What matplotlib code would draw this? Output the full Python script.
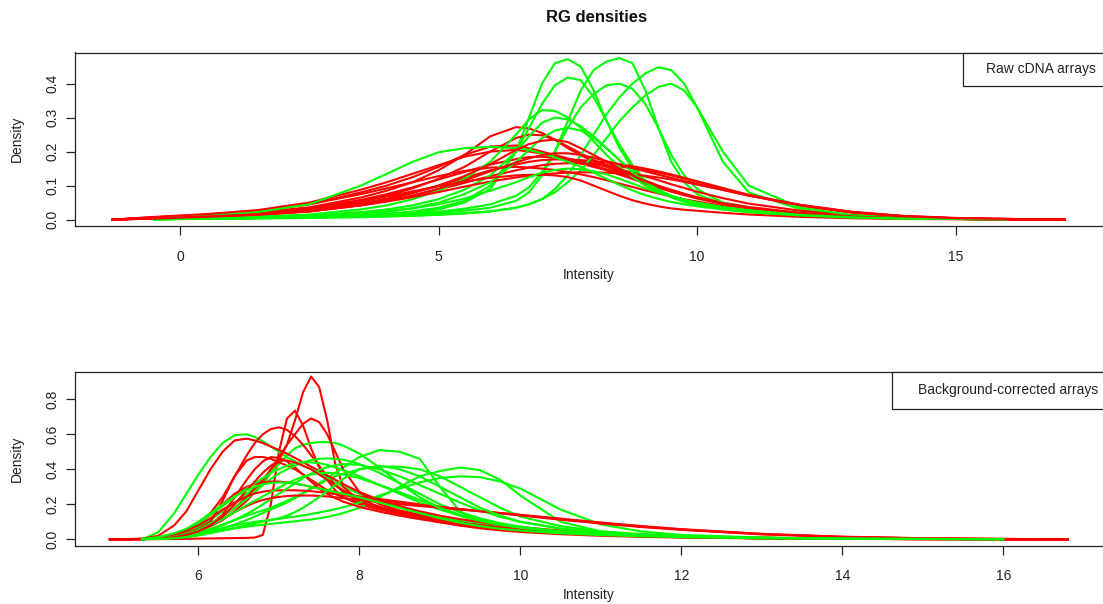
import numpy as np
import matplotlib
matplotlib.use("Agg")
import matplotlib.pyplot as plt
from matplotlib.patches import Rectangle

plt.rcParams['font.family'] = ['Liberation Sans', 'DejaVu Sans']

nan = np.nan
title = "RG densities"
xlabel = "Intensity"
ylabel = "Density"
top_legend = "Raw cDNA arrays"
bot_legend = "Background-corrected arrays"

# ---------------- top panel (raw) ----------------
top_x = [-1.3, -0.5, 0.5, 1.5, 2.5, 3.5, 4.0, 4.5, 5.0, 5.5, 6.0, 6.5, 6.75, 7.0, 7.25, 7.5,
         7.75, 8.0, 8.25, 8.5, 8.75, 9.0, 9.25, 9.5, 9.75, 10.0, 10.5, 11.0, 12.0, 13.0,
         14.0, 15.0, 16.0, 17.1]
top_red = [
    [0, 0.006, 0.014, 0.022, 0.036, 0.065, 0.085, 0.11, 0.145, 0.19, 0.245, 0.272, 0.268, 0.255, 0.235, 0.21, 0.19, 0.17, 0.155, 0.14, 0.125, 0.11, 0.098, 0.085, 0.074, 0.064, 0.048, 0.035, 0.018, 0.009, 0.004, 0.002, 0.001, 0],
    [0, 0.004, 0.01, 0.018, 0.03, 0.052, 0.07, 0.092, 0.12, 0.155, 0.2, 0.24, 0.25, 0.248, 0.235, 0.215, 0.195, 0.175, 0.16, 0.145, 0.13, 0.115, 0.1, 0.088, 0.076, 0.065, 0.048, 0.034, 0.017, 0.008, 0.004, 0.002, 0.001, 0],
    [0, 0.006, 0.014, 0.025, 0.045, 0.08, 0.1, 0.125, 0.155, 0.19, 0.215, 0.218, 0.21, 0.2, 0.19, 0.18, 0.17, 0.16, 0.148, 0.135, 0.12, 0.106, 0.094, 0.082, 0.072, 0.062, 0.046, 0.033, 0.017, 0.008, 0.004, 0.002, 0.001, 0],
    [0, 0.008, 0.016, 0.028, 0.05, 0.088, 0.11, 0.135, 0.16, 0.185, 0.2, 0.205, 0.2, 0.195, 0.185, 0.175, 0.165, 0.155, 0.145, 0.132, 0.12, 0.108, 0.096, 0.085, 0.075, 0.066, 0.05, 0.037, 0.02, 0.01, 0.005, 0.002, 0.001, 0],
    [0, 0.005, 0.012, 0.02, 0.034, 0.058, 0.075, 0.095, 0.118, 0.14, 0.162, 0.178, 0.184, 0.185, 0.182, 0.178, 0.172, 0.165, 0.157, 0.148, 0.138, 0.127, 0.116, 0.104, 0.093, 0.082, 0.063, 0.047, 0.026, 0.013, 0.006, 0.003, 0.001, 0],
    [0, 0.004, 0.01, 0.017, 0.028, 0.048, 0.062, 0.08, 0.1, 0.122, 0.145, 0.162, 0.17, 0.175, 0.177, 0.177, 0.175, 0.172, 0.168, 0.163, 0.157, 0.15, 0.142, 0.133, 0.123, 0.113, 0.093, 0.072, 0.04, 0.02, 0.009, 0.004, 0.001, 0],
    [0, 0.003, 0.008, 0.014, 0.024, 0.042, 0.055, 0.07, 0.088, 0.108, 0.128, 0.145, 0.153, 0.16, 0.164, 0.166, 0.165, 0.163, 0.16, 0.156, 0.151, 0.145, 0.138, 0.13, 0.121, 0.111, 0.092, 0.073, 0.043, 0.022, 0.01, 0.004, 0.002, 0],
    [0, 0.007, 0.015, 0.026, 0.045, 0.075, 0.092, 0.11, 0.128, 0.143, 0.153, 0.155, 0.153, 0.15, 0.146, 0.14, 0.133, 0.125, 0.116, 0.106, 0.096, 0.086, 0.077, 0.068, 0.06, 0.053, 0.04, 0.03, 0.016, 0.008, 0.004, 0.002, 0.001, 0],
    [0, 0.004, 0.009, 0.015, 0.025, 0.042, 0.053, 0.066, 0.081, 0.097, 0.112, 0.124, 0.129, 0.133, 0.136, 0.138, 0.139, 0.139, 0.138, 0.136, 0.133, 0.129, 0.124, 0.118, 0.111, 0.103, 0.087, 0.07, 0.043, 0.023, 0.011, 0.005, 0.002, 0],
    [0, 0.005, 0.012, 0.02, 0.033, 0.055, 0.068, 0.083, 0.098, 0.112, 0.123, 0.13, 0.132, 0.132, 0.13, 0.125, 0.115, 0.1, 0.085, 0.07, 0.057, 0.047, 0.039, 0.033, 0.029, 0.026, 0.02, 0.015, 0.008, 0.004, 0.002, 0.001, 0, 0],
    [0, 0.004, 0.009, 0.016, 0.027, 0.046, 0.06, 0.078, 0.1, 0.128, 0.163, 0.205, 0.222, 0.232, 0.235, 0.228, 0.21, 0.19, 0.17, 0.15, 0.13, 0.113, 0.098, 0.085, 0.074, 0.064, 0.048, 0.035, 0.018, 0.009, 0.004, 0.002, 0.001, 0],
    [0, 0.003, 0.008, 0.014, 0.024, 0.042, 0.055, 0.071, 0.091, 0.115, 0.142, 0.168, 0.18, 0.19, 0.195, 0.195, 0.19, 0.182, 0.172, 0.162, 0.152, 0.142, 0.132, 0.123, 0.114, 0.105, 0.088, 0.071, 0.043, 0.022, 0.01, 0.004, 0.002, 0],
]
top_green = [
    [nan, 0.001, 0.004, 0.006, 0.008, 0.012, 0.015, 0.02, 0.03, 0.05, 0.09, 0.2, 0.3, 0.4, 0.46, 0.472, 0.45, 0.38, 0.29, 0.21, 0.15, 0.11, 0.085, 0.068, 0.056, 0.047, 0.034, 0.025, 0.013, 0.006, 0.003, 0.002, 0.001, nan],
    [nan, 0.001, 0.003, 0.005, 0.007, 0.01, 0.012, 0.015, 0.02, 0.026, 0.035, 0.055, 0.08, 0.13, 0.2, 0.29, 0.38, 0.44, 0.465, 0.475, 0.46, 0.38, 0.27, 0.17, 0.11, 0.075, 0.045, 0.03, 0.015, 0.007, 0.003, 0.002, 0.001, nan],
    [nan, 0.001, 0.002, 0.004, 0.006, 0.008, 0.01, 0.012, 0.015, 0.019, 0.024, 0.035, 0.045, 0.06, 0.09, 0.13, 0.19, 0.25, 0.31, 0.36, 0.4, 0.43, 0.448, 0.44, 0.4, 0.33, 0.17, 0.08, 0.03, 0.012, 0.005, 0.002, 0.001, nan],
    [nan, 0.001, 0.003, 0.005, 0.007, 0.01, 0.013, 0.017, 0.023, 0.032, 0.045, 0.07, 0.095, 0.14, 0.2, 0.27, 0.33, 0.37, 0.395, 0.4, 0.385, 0.34, 0.27, 0.19, 0.13, 0.09, 0.05, 0.032, 0.015, 0.007, 0.003, 0.002, 0.001, nan],
    [nan, 0.001, 0.003, 0.005, 0.008, 0.013, 0.017, 0.024, 0.035, 0.055, 0.1, 0.2, 0.27, 0.34, 0.395, 0.418, 0.41, 0.36, 0.29, 0.22, 0.16, 0.115, 0.085, 0.065, 0.052, 0.043, 0.03, 0.022, 0.012, 0.006, 0.003, 0.002, 0.001, nan],
    [nan, 0.001, 0.002, 0.003, 0.005, 0.007, 0.009, 0.011, 0.014, 0.018, 0.024, 0.035, 0.045, 0.06, 0.08, 0.11, 0.145, 0.19, 0.24, 0.29, 0.33, 0.365, 0.39, 0.4, 0.38, 0.33, 0.2, 0.1, 0.035, 0.013, 0.005, 0.002, 0.001, nan],
    [nan, 0.002, 0.005, 0.009, 0.015, 0.03, 0.042, 0.06, 0.085, 0.12, 0.17, 0.25, 0.295, 0.322, 0.32, 0.3, 0.27, 0.23, 0.19, 0.155, 0.125, 0.1, 0.082, 0.068, 0.058, 0.05, 0.038, 0.028, 0.015, 0.007, 0.003, 0.002, 0.001, nan],
    [nan, 0.002, 0.004, 0.007, 0.012, 0.022, 0.03, 0.042, 0.06, 0.088, 0.13, 0.2, 0.245, 0.285, 0.3, 0.295, 0.275, 0.245, 0.21, 0.175, 0.14, 0.11, 0.088, 0.07, 0.058, 0.049, 0.036, 0.027, 0.014, 0.007, 0.003, 0.002, 0.001, nan],
    [nan, 0.001, 0.003, 0.006, 0.01, 0.018, 0.024, 0.034, 0.05, 0.075, 0.11, 0.17, 0.205, 0.24, 0.262, 0.27, 0.262, 0.24, 0.21, 0.175, 0.14, 0.11, 0.087, 0.07, 0.058, 0.049, 0.036, 0.027, 0.014, 0.007, 0.003, 0.002, 0.001, nan],
    [nan, 0.003, 0.01, 0.022, 0.045, 0.1, 0.135, 0.17, 0.198, 0.21, 0.214, 0.21, 0.205, 0.195, 0.183, 0.17, 0.155, 0.138, 0.12, 0.102, 0.086, 0.072, 0.061, 0.052, 0.045, 0.039, 0.03, 0.022, 0.012, 0.006, 0.003, 0.002, 0.001, nan],
    [nan, 0.001, 0.003, 0.005, 0.009, 0.017, 0.024, 0.033, 0.045, 0.062, 0.085, 0.11, 0.125, 0.138, 0.146, 0.15, 0.148, 0.142, 0.133, 0.12, 0.106, 0.092, 0.079, 0.068, 0.058, 0.05, 0.037, 0.027, 0.014, 0.007, 0.003, 0.002, 0.001, nan],
]

# ---------------- bottom panel (background-corrected) ----------------
bot_x = [4.9, 5.3, 5.5, 5.7, 5.85, 6.0, 6.15, 6.3, 6.45, 6.6, 6.7, 6.8, 6.9, 7.0, 7.1, 7.2,
         7.3, 7.4, 7.5, 7.6, 7.7, 7.8, 8.0, 8.25, 8.5, 8.75, 9.0, 9.25, 9.5, 9.75, 10.0,
         10.5, 11.0, 11.5, 12.0, 13.0, 14.0, 15.0, 16.0, 16.8]
bot_red = [
    [0, 0, 0.001, 0.002, 0.003, 0.004, 0.005, 0.006, 0.007, 0.008, 0.01, 0.025, 0.2, 0.5, 0.69, 0.735, 0.65, 0.52, 0.41, 0.34, 0.28, 0.24, 0.2, 0.17, 0.145, 0.125, 0.105, 0.088, 0.074, 0.062, 0.052, 0.036, 0.025, 0.018, 0.012, 0.006, 0.003, 0.001, 0.0005, 0],
    [0, 0.001, 0.004, 0.012, 0.025, 0.045, 0.075, 0.11, 0.16, 0.22, 0.27, 0.32, 0.38, 0.45, 0.54, 0.68, 0.84, 0.93, 0.87, 0.68, 0.43, 0.3, 0.22, 0.18, 0.15, 0.127, 0.107, 0.09, 0.075, 0.063, 0.053, 0.038, 0.027, 0.019, 0.013, 0.006, 0.003, 0.001, 0.0005, 0],
    [0, 0.002, 0.008, 0.025, 0.05, 0.09, 0.15, 0.24, 0.36, 0.48, 0.55, 0.6, 0.63, 0.64, 0.625, 0.59, 0.54, 0.48, 0.42, 0.36, 0.31, 0.27, 0.22, 0.185, 0.158, 0.134, 0.112, 0.093, 0.078, 0.065, 0.055, 0.038, 0.027, 0.019, 0.013, 0.006, 0.003, 0.001, 0.0005, 0],
    [0, 0.001, 0.005, 0.015, 0.03, 0.055, 0.09, 0.13, 0.18, 0.24, 0.29, 0.34, 0.4, 0.47, 0.54, 0.6, 0.66, 0.69, 0.67, 0.6, 0.5, 0.4, 0.27, 0.2, 0.165, 0.14, 0.115, 0.095, 0.08, 0.067, 0.056, 0.04, 0.028, 0.02, 0.014, 0.006, 0.003, 0.001, 0.0005, 0],
    [0, 0.003, 0.02, 0.08, 0.16, 0.28, 0.4, 0.5, 0.565, 0.575, 0.565, 0.55, 0.53, 0.51, 0.49, 0.465, 0.44, 0.415, 0.39, 0.365, 0.34, 0.315, 0.27, 0.225, 0.19, 0.16, 0.135, 0.115, 0.098, 0.083, 0.07, 0.05, 0.036, 0.026, 0.018, 0.009, 0.004, 0.002, 0.001, 0],
    [0, 0.002, 0.006, 0.018, 0.035, 0.06, 0.1, 0.22, 0.36, 0.45, 0.47, 0.47, 0.46, 0.44, 0.42, 0.4, 0.37, 0.34, 0.31, 0.28, 0.26, 0.24, 0.21, 0.18, 0.155, 0.132, 0.112, 0.095, 0.08, 0.068, 0.058, 0.042, 0.031, 0.022, 0.016, 0.008, 0.004, 0.002, 0.001, 0],
    [0, 0.001, 0.005, 0.014, 0.028, 0.05, 0.085, 0.14, 0.24, 0.34, 0.4, 0.445, 0.47, 0.465, 0.445, 0.41, 0.37, 0.33, 0.29, 0.26, 0.235, 0.215, 0.185, 0.158, 0.135, 0.115, 0.098, 0.084, 0.072, 0.062, 0.053, 0.038, 0.028, 0.02, 0.014, 0.007, 0.003, 0.002, 0.001, 0],
    [0, 0.002, 0.01, 0.03, 0.055, 0.09, 0.14, 0.2, 0.26, 0.3, 0.315, 0.325, 0.33, 0.33, 0.325, 0.318, 0.31, 0.3, 0.29, 0.28, 0.27, 0.26, 0.245, 0.23, 0.215, 0.2, 0.185, 0.172, 0.16, 0.148, 0.136, 0.112, 0.09, 0.07, 0.054, 0.028, 0.013, 0.005, 0.002, 0],
    [0, 0.002, 0.01, 0.028, 0.05, 0.08, 0.12, 0.17, 0.21, 0.245, 0.262, 0.272, 0.278, 0.28, 0.28, 0.28, 0.278, 0.275, 0.27, 0.265, 0.258, 0.252, 0.24, 0.225, 0.21, 0.197, 0.185, 0.173, 0.162, 0.15, 0.139, 0.115, 0.093, 0.073, 0.056, 0.03, 0.014, 0.006, 0.002, 0],
    [0, 0.001, 0.005, 0.015, 0.03, 0.05, 0.08, 0.115, 0.155, 0.19, 0.21, 0.225, 0.235, 0.242, 0.247, 0.25, 0.25, 0.25, 0.248, 0.245, 0.24, 0.235, 0.225, 0.212, 0.2, 0.19, 0.18, 0.17, 0.16, 0.15, 0.14, 0.118, 0.096, 0.076, 0.058, 0.031, 0.015, 0.006, 0.002, 0],
    [0, 0.001, 0.004, 0.012, 0.025, 0.045, 0.08, 0.13, 0.2, 0.28, 0.33, 0.38, 0.42, 0.45, 0.45, 0.44, 0.42, 0.4, 0.37, 0.34, 0.31, 0.28, 0.23, 0.185, 0.15, 0.12, 0.097, 0.078, 0.063, 0.051, 0.042, 0.029, 0.02, 0.014, 0.01, 0.005, 0.002, 0.001, 0.0005, 0],
]
bot_green = [
    [nan, 0.0, 0.04, 0.15, 0.26, 0.37, 0.47, 0.55, 0.595, 0.6, 0.585, 0.56, 0.53, 0.5, 0.47, 0.445, 0.42, 0.4, 0.375, 0.35, 0.325, 0.3, 0.26, 0.22, 0.18, 0.15, 0.125, 0.104, 0.087, 0.073, 0.062, 0.044, 0.031, 0.022, 0.016, 0.008, 0.004, 0.002, 0.001, nan],
    [nan, 0.001, 0.005, 0.02, 0.04, 0.07, 0.11, 0.16, 0.21, 0.26, 0.29, 0.33, 0.38, 0.43, 0.48, 0.52, 0.54, 0.55, 0.555, 0.555, 0.55, 0.535, 0.49, 0.41, 0.32, 0.24, 0.18, 0.135, 0.1, 0.077, 0.06, 0.04, 0.028, 0.02, 0.014, 0.007, 0.003, 0.002, 0.001, nan],
    [nan, 0.001, 0.003, 0.008, 0.015, 0.025, 0.04, 0.06, 0.085, 0.11, 0.13, 0.15, 0.17, 0.19, 0.21, 0.235, 0.26, 0.29, 0.32, 0.35, 0.38, 0.41, 0.47, 0.51, 0.5, 0.46, 0.3, 0.16, 0.1, 0.07, 0.055, 0.035, 0.024, 0.017, 0.012, 0.006, 0.003, 0.002, 0.001, nan],
    [nan, 0.001, 0.004, 0.012, 0.025, 0.04, 0.06, 0.085, 0.11, 0.135, 0.15, 0.165, 0.18, 0.2, 0.22, 0.24, 0.265, 0.29, 0.315, 0.34, 0.36, 0.375, 0.4, 0.415, 0.415, 0.4, 0.36, 0.3, 0.24, 0.18, 0.13, 0.075, 0.045, 0.03, 0.02, 0.009, 0.004, 0.002, 0.001, nan],
    [nan, 0.001, 0.003, 0.008, 0.015, 0.025, 0.038, 0.05, 0.062, 0.072, 0.078, 0.083, 0.088, 0.093, 0.098, 0.103, 0.108, 0.113, 0.12, 0.128, 0.138, 0.15, 0.18, 0.24, 0.3, 0.36, 0.39, 0.41, 0.395, 0.34, 0.25, 0.1, 0.045, 0.025, 0.015, 0.006, 0.003, 0.002, 0.001, nan],
    [nan, 0.001, 0.004, 0.01, 0.02, 0.035, 0.05, 0.065, 0.08, 0.092, 0.1, 0.106, 0.112, 0.118, 0.124, 0.13, 0.137, 0.145, 0.153, 0.162, 0.172, 0.183, 0.21, 0.25, 0.29, 0.325, 0.35, 0.36, 0.355, 0.33, 0.29, 0.17, 0.085, 0.045, 0.025, 0.01, 0.004, 0.002, 0.001, nan],
    [nan, 0.001, 0.005, 0.015, 0.03, 0.055, 0.09, 0.13, 0.18, 0.23, 0.27, 0.31, 0.345, 0.375, 0.4, 0.42, 0.44, 0.452, 0.46, 0.462, 0.46, 0.455, 0.43, 0.38, 0.32, 0.26, 0.2, 0.155, 0.12, 0.092, 0.072, 0.046, 0.031, 0.022, 0.015, 0.007, 0.003, 0.002, 0.001, nan],
    [nan, 0.002, 0.01, 0.03, 0.055, 0.09, 0.14, 0.19, 0.24, 0.29, 0.32, 0.35, 0.38, 0.4, 0.42, 0.435, 0.44, 0.44, 0.435, 0.425, 0.41, 0.395, 0.36, 0.31, 0.26, 0.21, 0.17, 0.135, 0.105, 0.083, 0.066, 0.043, 0.029, 0.02, 0.014, 0.007, 0.003, 0.002, 0.001, nan],
    [nan, 0.001, 0.004, 0.01, 0.02, 0.035, 0.055, 0.08, 0.11, 0.145, 0.17, 0.2, 0.23, 0.26, 0.29, 0.32, 0.35, 0.375, 0.395, 0.412, 0.423, 0.43, 0.425, 0.4, 0.36, 0.31, 0.26, 0.21, 0.165, 0.128, 0.1, 0.062, 0.04, 0.027, 0.018, 0.008, 0.004, 0.002, 0.001, nan],
    [nan, 0.001, 0.005, 0.015, 0.03, 0.05, 0.08, 0.115, 0.155, 0.195, 0.22, 0.245, 0.27, 0.295, 0.32, 0.34, 0.358, 0.37, 0.378, 0.38, 0.378, 0.37, 0.35, 0.31, 0.27, 0.225, 0.18, 0.14, 0.11, 0.087, 0.068, 0.044, 0.029, 0.02, 0.014, 0.006, 0.003, 0.002, 0.001, nan],
    [nan, 0.0, 0.002, 0.006, 0.012, 0.022, 0.035, 0.05, 0.065, 0.08, 0.09, 0.1, 0.11, 0.12, 0.135, 0.155, 0.18, 0.21, 0.24, 0.275, 0.31, 0.345, 0.4, 0.42, 0.4, 0.36, 0.3, 0.24, 0.18, 0.135, 0.1, 0.06, 0.038, 0.025, 0.017, 0.008, 0.004, 0.002, 0.001, nan],
    [nan, 0.002, 0.012, 0.035, 0.06, 0.1, 0.15, 0.2, 0.245, 0.28, 0.3, 0.315, 0.322, 0.325, 0.322, 0.318, 0.31, 0.3, 0.29, 0.28, 0.27, 0.26, 0.24, 0.21, 0.18, 0.15, 0.12, 0.095, 0.075, 0.06, 0.05, 0.034, 0.024, 0.017, 0.012, 0.006, 0.003, 0.002, 0.001, nan],
]

top_xticks = [0, 5, 10, 15]
top_yticks = [0.0, 0.1, 0.2, 0.3, 0.4]
bot_xticks = [6, 8, 10, 12, 14, 16]
bot_yticks = [0.0, 0.2, 0.4, 0.6, 0.8]

RED = "#FF0000"
GREEN = "#00FF00"

W, H = 1103, 604
fig = plt.figure(figsize=(W / 100, H / 100), dpi=100)


def px_box(left, top, right, bottom):
    return [left / W, 1 - bottom / H, (right - left) / W, (bottom - top) / H]


def setup(ax, xlim, ylim, xticks, yticks, leg_text, leg_box):
    ax.set_xlim(*xlim)
    ax.set_ylim(*ylim)
    ax.set_xticks(xticks)
    ax.set_xticklabels([str(t) for t in xticks])
    ax.set_yticks(yticks)
    ax.set_yticklabels([f"{t:.1f}" for t in yticks], rotation=90, va="center")
    ax.tick_params(axis="x", direction="out", length=6.5, width=0.9, pad=10.5,
                   labelsize=10, colors="#222222")
    ax.tick_params(axis="y", direction="out", length=6.5, width=0.9, pad=4,
                   labelsize=10, colors="#222222")
    for s in ("left", "top", "bottom"):
        ax.spines[s].set_linewidth(0.9)
        ax.spines[s].set_color("#222222")
    ax.spines["right"].set_visible(False)
    ax.set_xlabel(xlabel, fontsize=10, color="#222222")
    ax.set_ylabel(ylabel, fontsize=10, color="#222222")
    ax.xaxis.label.set_va("center")
    ax.yaxis.label.set_va("center")
    # legend-like box (as drawn by R's legend())
    l, t, b, tx = leg_box
    rect = Rectangle((l / W, 1 - b / H), 0.2, (b - t) / H, transform=fig.transFigure,
                     facecolor="white", edgecolor="#222222", lw=0.9, zorder=5,
                     clip_on=False)
    fig.add_artist(rect)
    fig.text(tx / W, 1 - (t + b) / 2 / H, leg_text, fontsize=10, color="#222222",
             ha="left", va="center", zorder=6)


ax1 = fig.add_axes(px_box(74.5, 52.5, 1103, 226))
for i in range(max(len(top_red), len(top_green))):
    if i < len(top_red):
        ax1.plot(top_x, top_red[i], color=RED, lw=1.5)
    if i < len(top_green):
        ax1.plot(top_x, top_green[i], color=GREEN, lw=1.5)
setup(ax1, (-2.04, 17.85), (-0.0188, 0.4915), top_xticks, top_yticks,
      top_legend, (963, 52.5, 86, 986))
ax1.xaxis.set_label_coords(0.5, -(275 - 226) / 173.5)
ax1.yaxis.set_label_coords(-(74.5 - 17) / 1028.5, 0.5)

ax2 = fig.add_axes(px_box(74.5, 371.8, 1103, 545.7))
for i in range(max(len(bot_red), len(bot_green))):
    if i < len(bot_red):
        ax2.plot(bot_x, bot_red[i], color=RED, lw=1.5)
    if i < len(bot_green):
        ax2.plot(bot_x, bot_green[i], color=GREEN, lw=1.5)
setup(ax2, (4.46, 17.24), (-0.0366, 0.957), bot_xticks, bot_yticks,
      bot_legend, (892, 371.8, 408.5, 917.5))
ax2.xaxis.set_label_coords(0.5, -(595 - 545.7) / 173.9)
ax2.yaxis.set_label_coords(-(74.5 - 17) / 1028.5, 0.5)

fig.text(597 / W, 1 - 18 / H, title, fontsize=12, fontweight="bold",
         ha="center", va="center", color="#111111")

fig.savefig("out.png", dpi=100)
